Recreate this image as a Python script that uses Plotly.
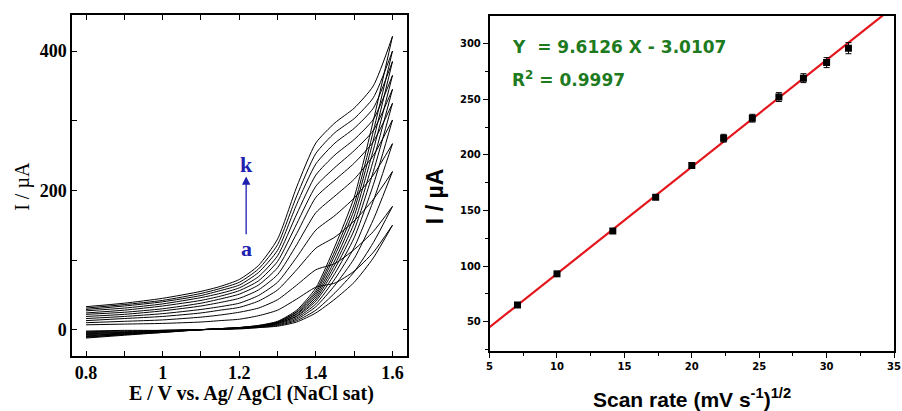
import plotly.graph_objects as go

# ---------------- Left panel: cyclic voltammograms (a..k) ----------------
E_fwd = [0.8, 0.9, 1.0, 1.1, 1.15, 1.2, 1.25, 1.3, 1.35, 1.4, 1.45, 1.5, 1.55, 1.6]
E_rev = [1.6, 1.55, 1.5, 1.45, 1.4, 1.35, 1.3, 1.25, 1.2, 1.1, 1.0, 0.9, 0.8]

fwd_a = [7, 8, 9, 11, 13, 15, 20, 28, 44, 61, 67, 84, 111, 150]
fwd_b = [10, 12, 14, 18, 21, 25, 31, 43, 64, 86, 95, 115, 141, 177]
fwd_c = [13, 16, 19, 24, 28, 32, 41, 57, 86, 117, 133, 156, 187, 227]
fwd_d = [16, 19, 23, 29, 33, 38, 49, 68, 104, 143, 164, 189, 222, 267]
fwd_e = [19, 22, 27, 34, 39, 45, 57, 79, 122, 168, 192, 216, 250, 301]
fwd_f = [22, 25, 30, 38, 44, 51, 64, 89, 138, 190, 215, 239, 270, 325]
fwd_g = [24, 28, 34, 42, 48, 56, 70, 98, 152, 206, 233, 257, 286, 345]
fwd_h = [27, 31, 37, 46, 52, 60, 76, 106, 166, 222, 251, 273, 302, 365]
fwd_i = [29, 34, 40, 49, 56, 64, 82, 114, 180, 238, 268, 289, 318, 385]
fwd_j = [31, 36, 42, 52, 59, 68, 87, 122, 192, 253, 283, 303, 333, 400]
fwd_k = [33, 38, 45, 55, 62, 72, 92, 130, 205, 268, 297, 318, 350, 421]

rev_a = [150, 103, 68, 44, 24, 11, 5, 3, 1, 0, -1, -1, -2]
rev_b = [177, 125, 83, 53, 28, 13, 6, 3, 2, 0, -1, -2, -3]
rev_c = [227, 158, 102, 64, 33, 15, 7, 4, 2, 0, -1, -3, -4]
rev_d = [267, 185, 118, 73, 37, 17, 8, 4, 2, 0, -2, -4, -5]
rev_e = [301, 208, 132, 81, 41, 19, 9, 4, 2, 0, -2, -4, -6]
rev_f = [325, 227, 143, 88, 44, 20, 9, 5, 2, 0, -2, -5, -7]
rev_g = [345, 243, 153, 94, 47, 22, 10, 5, 2, 0, -3, -6, -8]
rev_h = [365, 258, 163, 100, 50, 23, 10, 5, 3, 0, -3, -6, -9]
rev_i = [385, 272, 172, 107, 53, 25, 11, 5, 3, 0, -3, -7, -10]
rev_j = [400, 285, 180, 113, 56, 26, 11, 6, 3, 0, -4, -7, -11]
rev_k = [421, 300, 190, 120, 60, 28, 12, 6, 3, 0, -4, -8, -12]

forward_sets = [fwd_a, fwd_b, fwd_c, fwd_d, fwd_e, fwd_f, fwd_g, fwd_h, fwd_i, fwd_j, fwd_k]
reverse_sets = [rev_a, rev_b, rev_c, rev_d, rev_e, rev_f, rev_g, rev_h, rev_i, rev_j, rev_k]

left_xticks = [0.8, 1.0, 1.2, 1.4, 1.6]
left_xlabels = ["0.8", "1", "1.2", "1.4", "1.6"]
left_yticks = [0, 200, 400]
left_ylabels = ["0", "200", "400"]

# ---------------- Right panel: peak current vs sqrt(scan rate) ----------------
sqrt_scan = [7.07, 10.0, 14.14, 17.32, 20.0, 22.36, 24.49, 26.46, 28.28, 30.0, 31.62]
peak_I = [65, 93, 131.5, 162, 190.5, 215, 233, 252, 269, 283, 296]
peak_err = [1.5, 1.5, 2, 2, 2.5, 3.5, 3.5, 4, 4, 4.5, 5]
fit_slope = 9.6126
fit_icpt = -3.0107
fit_x = [5, 35]
right_xticks = [5, 10, 15, 20, 25, 30, 35]
right_yticks = [50, 100, 150, 200, 250, 300]

fig = go.Figure()

for f, r in zip(forward_sets, reverse_sets):
    fig.add_trace(go.Scatter(x=E_fwd, y=f, mode="lines", line=dict(color="black", width=1, shape="spline", smoothing=0.6),
                             xaxis="x", yaxis="y", showlegend=False, hoverinfo="skip"))
    fig.add_trace(go.Scatter(x=E_rev, y=r, mode="lines", line=dict(color="black", width=1, shape="spline", smoothing=0.6),
                             xaxis="x", yaxis="y", showlegend=False, hoverinfo="skip"))

fit_y = [fit_slope * v + fit_icpt for v in fit_x]
fig.add_trace(go.Scatter(x=fit_x, y=fit_y, mode="lines", line=dict(color="#e3161c", width=2.2),
                         xaxis="x2", yaxis="y2", showlegend=False, cliponaxis=True))
fig.add_trace(go.Scatter(x=sqrt_scan, y=peak_I, mode="markers",
                         marker=dict(symbol="square", size=7, color="black"),
                         error_y=dict(type="data", array=peak_err, color="black", thickness=1, width=3),
                         xaxis="x2", yaxis="y2", showlegend=False))

serif = "Liberation Serif"
sans = "Liberation Sans"
wide = "DejaVu Sans"

fig.update_layout(
    width=902, height=411,
    margin=dict(l=0, r=0, t=0, b=0),
    paper_bgcolor="white", plot_bgcolor="white",
    xaxis=dict(domain=[0.0776, 0.4534], range=[0.764, 1.639], showgrid=False, zeroline=False,
               showline=True, linecolor="black", linewidth=1.5, mirror="allticks",
               ticks="inside", ticklen=5, tickwidth=1.2, tickcolor="black",
               tickvals=left_xticks, ticktext=left_xlabels,
               tickfont=dict(family=serif, size=18, color="black", weight="bold"),
               minor=dict(dtick=0.1, tick0=0.8, ticks="inside", ticklen=5, tickcolor="black", showgrid=False),
               anchor="y"),
    yaxis=dict(domain=[0.1338, 0.9635], range=[-37.8, 451.7], showgrid=False, zeroline=False,
               showline=True, linecolor="black", linewidth=1.5, mirror="allticks",
               ticks="inside", ticklen=5, tickwidth=1.2, tickcolor="black",
               tickvals=left_yticks, ticktext=left_ylabels,
               tickfont=dict(family=serif, size=18, color="black", weight="bold"),
               minor=dict(dtick=100, tick0=0, ticks="inside", ticklen=5, tickcolor="black", showgrid=False),
               anchor="x"),
    xaxis2=dict(domain=[0.5455, 0.9989], range=[5, 35], showgrid=False, zeroline=False,
                showline=True, linecolor="black", linewidth=1.5, mirror=True,
                ticks="outside", ticklen=5, tickwidth=1, tickcolor="black",
                tickvals=right_xticks, ticklabeloverflow="allow",
                tickfont=dict(family=wide, size=10, color="black", weight="bold"),
                minor=dict(dtick=2.5, tick0=5, ticks="outside", ticklen=3, tickcolor="black", showgrid=False),
                anchor="y2"),
    yaxis2=dict(domain=[0.146, 0.961], range=[23.6, 324.9], showgrid=False, zeroline=False,
                showline=True, linecolor="black", linewidth=1.5, mirror=True,
                ticks="outside", ticklen=5, tickwidth=1, tickcolor="black",
                tickvals=right_yticks,
                tickfont=dict(family=wide, size=10, color="black", weight="bold"),
                minor=dict(dtick=25, tick0=0, ticks="outside", ticklen=3, tickcolor="black", showgrid=False),
                anchor="x2"),
    annotations=[
        dict(text="E / V vs. Ag/ AgCl (NaCl sat)", x=251 / 902, y=1 - 393 / 411, xref="paper", yref="paper",
             showarrow=False, font=dict(family=serif, size=20, color="black", weight="bold"),
             xanchor="center", yanchor="middle"),
        dict(text="I / µA", x=19 / 902, y=1 - 186 / 411, xref="paper", yref="paper", textangle=-90,
             showarrow=False, font=dict(family=serif, size=20, color="black"),
             xanchor="center", yanchor="middle"),
        dict(text="k", x=1.218, y=237, xref="x", yref="y", showarrow=False,
             font=dict(family=serif, size=22, color="#1f1fb0", weight="bold"), xanchor="center", yanchor="middle"),
        dict(text="a", x=1.218, y=116, xref="x", yref="y", showarrow=False,
             font=dict(family=serif, size=22, color="#1f1fb0", weight="bold"), xanchor="center", yanchor="middle"),
        dict(text="", x=1.218, y=220, ax=1.218, ay=135, xref="x", yref="y", axref="x", ayref="y",
             showarrow=True, arrowhead=2, arrowsize=1.3, arrowwidth=1.3, arrowcolor="#1f1fb0"),
        dict(text="Scan rate (mV s<sup>-1</sup>)<sup>1/2</sup>", x=697 / 902, y=1 - 398 / 411, xref="paper", yref="paper",
             showarrow=False, font=dict(family=sans, size=21, color="black", weight="bold"),
             xanchor="center", yanchor="middle"),
        dict(text="I / µA", x=437 / 902, y=1 - 197 / 411, xref="paper", yref="paper", textangle=-90,
             showarrow=False, font=dict(family=sans, size=23, color="black", weight="bold"),
             xanchor="center", yanchor="middle"),
        dict(text="Y  = 9.6126 X - 3.0107", x=513 / 902, y=1 - 47 / 411, xref="paper", yref="paper",
             showarrow=False, font=dict(family=wide, size=17, color="#1e7a1e", weight="bold"),
             xanchor="left", yanchor="middle"),
        dict(text="R<sup>2</sup> = 0.9997", x=513 / 902, y=1 - 79 / 411, xref="paper", yref="paper",
             showarrow=False, font=dict(family=wide, size=17, color="#1e7a1e", weight="bold"),
             xanchor="left", yanchor="middle"),
    ],
)

fig.write_html("out.html")
